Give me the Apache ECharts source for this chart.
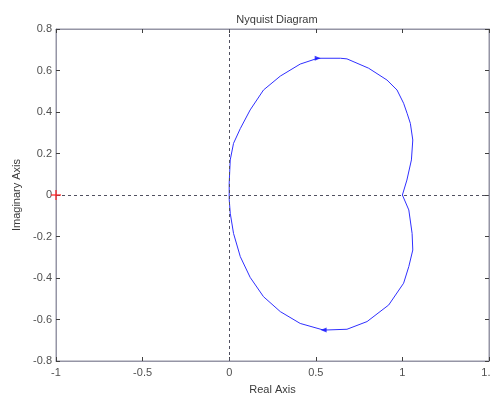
<!DOCTYPE html>
<html>
<head>
<meta charset="utf-8">
<style>
  html, body { margin: 0; padding: 0; background: #fff; }
  #chart { width: 491px; height: 394px; }
</style>
<script src="https://cdn.jsdelivr.net/npm/echarts@6/dist/echarts.min.js"></script>
</head>
<body>
<div id="chart"></div>
<script>
var xTicks = [-1, -0.5, 0, 0.5, 1, 1.5];
var yTicks = [-0.8, -0.6, -0.4, -0.2, 0, 0.2, 0.4, 0.6, 0.8];

// Nyquist curve, going round from the origin
var realPart = [0, 0, 0.006, 0.025, 0.064, 0.121, 0.198, 0.295, 0.41, 0.511, 0.642, 0.68, 0.805, 0.911,
  0.969, 1.007, 1.027, 1.046, 1.06, 1.052, 1.026, 1.0,
  1.037, 1.056, 1.06, 1.037, 1.007, 0.921, 0.796, 0.68, 0.545, 0.41, 0.295, 0.198, 0.121, 0.064,
  0.025, 0.006, 0, 0];
var imagPart = [0, 0.058, 0.169, 0.249, 0.32, 0.41, 0.506, 0.573, 0.631, 0.659, 0.659, 0.656, 0.611, 0.554,
  0.506, 0.442, 0.394, 0.345, 0.265, 0.169, 0.072, 0,
  -0.072, -0.185, -0.265, -0.345, -0.425, -0.53, -0.61, -0.647, -0.651, -0.619, -0.562, -0.49, -0.397, -0.297,
  -0.185, -0.088, -0.02, 0];

// arrows on the two branches and the critical point
var arrowPoints = [[0.511, 0.659, -90], [0.545, -0.651, 90]];
var criticalPoint = [-1, 0];

var font = 'Liberation Sans, Arial, sans-serif';
var frame = '#9595a5';
var labelColor = '#505050';

var curve = realPart.map(function (x, i) { return [x, imagPart[i]]; });

function xAxisBase(extra) {
  var a = {
    type: 'value',
    min: xTicks[0],
    max: xTicks[xTicks.length - 1],
    interval: 0.5,
    axisLine: { onZero: false, lineStyle: { color: frame } },
    axisTick: { inside: true, length: 4, lineStyle: { color: '#404040' } },
    splitLine: { show: false }
  };
  return Object.assign(a, extra);
}

function yAxisBase(extra) {
  var a = {
    type: 'value',
    min: yTicks[0],
    max: yTicks[yTicks.length - 1],
    interval: 0.2,
    axisLine: { show: true, onZero: false, lineStyle: { color: frame } },
    axisTick: { show: true, inside: true, length: 4, lineStyle: { color: '#404040' } },
    splitLine: { show: false }
  };
  return Object.assign(a, extra);
}

var chart = echarts.init(document.getElementById('chart'));
chart.setOption({
  animation: false,
  title: {
    text: 'Nyquist Diagram',
    left: 272,
    textAlign: 'center',
    top: 9,
    textStyle: { fontFamily: font, fontSize: 11, fontWeight: 'normal', color: '#3a3a3a' }
  },
  grid: {
    left: 56, top: 29, right: 2, bottom: 33,
    outerBoundsMode: 'none',
    show: true, borderColor: frame, borderWidth: 1
  },
  xAxis: [
    xAxisBase({
      position: 'bottom',
      name: 'Real Axis',
      nameLocation: 'middle',
      nameGap: 23,
      nameTextStyle: { fontFamily: font, fontSize: 11, color: '#3a3a3a' },
      axisLabel: { fontFamily: font, fontSize: 11, color: labelColor, margin: 6,
        formatter: function (v) { return String(v); } }
    }),
    xAxisBase({ position: 'top', axisLabel: { show: false } })
  ],
  yAxis: [
    yAxisBase({
      position: 'left',
      name: 'Imaginary Axis',
      nameLocation: 'middle',
      nameRotate: 90,
      nameGap: 33,
      nameTextStyle: { fontFamily: font, fontSize: 11, color: '#3a3a3a' },
      axisLabel: { fontFamily: font, fontSize: 11, color: labelColor, margin: 4,
        formatter: function (v) { return String(Math.round(v * 10) / 10); } }
    }),
    yAxisBase({ position: 'right', axisLabel: { show: false } })
  ],
  series: [{
    type: 'line',
    data: curve,
    showSymbol: false,
    lineStyle: { color: '#2f2fff', width: 1 },
    markLine: {
      silent: true,
      symbol: 'none',
      label: { show: false },
      lineStyle: { color: '#505060', type: [3, 3], width: 1 },
      data: [{ xAxis: 0 }, { yAxis: 0 }]
    },
    z: 3
  }, {
    type: 'scatter',
    data: arrowPoints.map(function (p) { return { value: [p[0], p[1]], symbolRotate: p[2] }; }),
    symbol: 'triangle',
    symbolSize: [5, 6],
    itemStyle: { color: '#1010ff' },
    z: 4
  }, {
    type: 'scatter',
    data: [criticalPoint],
    symbol: 'rect',
    symbolSize: [10, 1.5],
    itemStyle: { color: '#ff2020' },
    z: 5
  }, {
    type: 'scatter',
    data: [criticalPoint],
    symbol: 'rect',
    symbolSize: [1.5, 10],
    itemStyle: { color: '#ff2020' },
    z: 5
  }]
});
</script>
</body>
</html>
